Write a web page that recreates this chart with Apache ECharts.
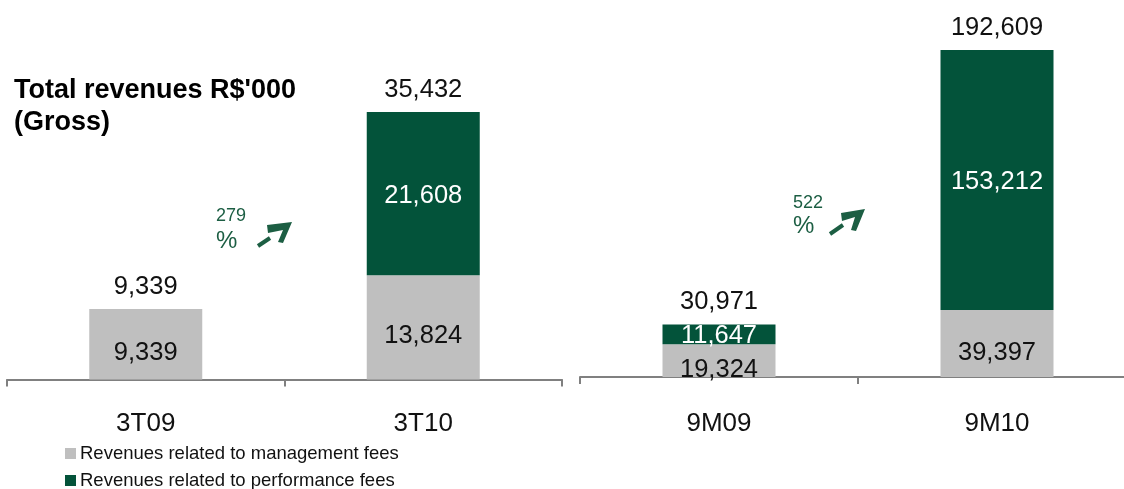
<!DOCTYPE html>
<html>
<head>
<meta charset="utf-8">
<script src="https://cdn.jsdelivr.net/npm/echarts@6/dist/echarts.min.js"></script>
<style>
  html, body { margin: 0; padding: 0; background: #fff; }
  #chart { width: 1124px; height: 489px; }
</style>
</head>
<body>
<div id="chart"></div>
<script>
// Quarter panel (3T) and nine-month panel (9M), R$'000
const quarterCategories = ['3T09', '3T10'];
const quarterManagement = [9339, 13824];
const quarterPerformance = [0, 21608];

const ytdCategories = ['9M09', '9M10'];
const ytdManagement = [19324, 39397];
const ytdPerformance = [11647, 153212];

const growthLabels = ['279', '522'];

const seriesNames = ['Revenues related to management fees', 'Revenues related to performance fees'];

const GRAY = '#bfbfbf';
const GREEN = '#03533a';
const NOTE_GREEN = '#1c5e43';
const AXIS_GRAY = '#808080';
const FONT = '"Liberation Sans", Arial, sans-serif';

const fmt = v => v.toLocaleString('en-US');

function panelSeries(axisIndex, mgmt, perf, stackId) {
  const totals = mgmt.map((v, i) => v + perf[i]);
  return [
    {
      name: seriesNames[0], type: 'bar', stack: stackId,
      xAxisIndex: axisIndex, yAxisIndex: axisIndex,
      barWidth: 113, data: mgmt,
      itemStyle: { color: GRAY },
      label: {
        show: true, position: 'inside', offset: [0, 9],
        color: '#111', fontSize: 25.5, fontFamily: FONT,
        formatter: p => fmt(p.value)
      }
    },
    {
      name: seriesNames[1], type: 'bar', stack: stackId,
      xAxisIndex: axisIndex, yAxisIndex: axisIndex,
      barWidth: 113, data: perf,
      itemStyle: { color: GREEN },
      label: {
        show: true, position: 'inside', offset: [0, 2],
        color: '#fff', fontSize: 25.5, fontFamily: FONT,
        formatter: p => (p.value ? fmt(p.value) : '')
      }
    },
    {
      // zero-height cap carrying the stacked total above each column
      name: 'total', type: 'bar', stack: stackId,
      xAxisIndex: axisIndex, yAxisIndex: axisIndex,
      barWidth: 113, data: totals.map(() => 0),
      itemStyle: { color: 'transparent' },
      label: {
        show: true, position: 'top', distance: 9,
        color: '#111', fontSize: 25.5, fontFamily: FONT,
        formatter: p => fmt(totals[p.dataIndex])
      },
      silent: true
    }
  ];
}

function categoryAxis(gridIndex, data, margin) {
  return {
    type: 'category', gridIndex, data,
    axisLine: { show: true, lineStyle: { color: AXIS_GRAY, width: 2 } },
    axisTick: { show: true, length: 7, interval: 0, lineStyle: { color: AXIS_GRAY, width: 2 } },
    axisLabel: { color: '#111', fontSize: 26, fontFamily: FONT, margin }
  };
}

function growthArrow(dash, head) {
  return [
    { type: 'line', shape: { x1: dash[0], y1: dash[1], x2: dash[2], y2: dash[3] },
      style: { stroke: NOTE_GREEN, lineWidth: 4 } },
    { type: 'polygon', shape: { points: head }, style: { fill: NOTE_GREEN } }
  ];
}

function legendRow(name, top) {
  return {
    data: [name], orient: 'vertical', left: 60, top,
    icon: 'rect', itemWidth: 11, itemHeight: 11,
    textStyle: { color: '#111', fontSize: 18.5, fontFamily: FONT, padding: [0, 0, 0, -1] },
    selectedMode: false
  };
}

const chart = echarts.init(document.getElementById('chart'));
chart.setOption({
  animation: false,
  backgroundColor: '#fff',
  textStyle: { fontFamily: FONT },
  grid: [
    { left: 7, top: 77.5, width: 555, height: 302, outerBoundsMode: 'none' },
    { left: 580, top: 37.5, width: 556, height: 339.5, outerBoundsMode: 'none' }
  ],
  xAxis: [categoryAxis(0, quarterCategories, 31), categoryAxis(1, ytdCategories, 34)],
  yAxis: [
    { type: 'value', gridIndex: 0, min: 0, max: 40000, show: false },
    { type: 'value', gridIndex: 1, min: 0, max: 200000, show: false }
  ],
  legend: [legendRow(seriesNames[0], 439), legendRow(seriesNames[1], 466)],
  series: [
    ...panelSeries(0, quarterManagement, quarterPerformance, 'q'),
    ...panelSeries(1, ytdManagement, ytdPerformance, 'y')
  ],
  graphic: [
    { type: 'text', left: 14, top: 75,
      style: { text: "Total revenues R$'000\n(Gross)", fill: '#000', font: 'bold 27px ' + FONT, lineHeight: 32 } },
    { type: 'text', left: 216, top: 207,
      style: { text: growthLabels[0], fill: NOTE_GREEN, font: '18px ' + FONT } },
    { type: 'text', left: 216, top: 229,
      style: { text: '%', fill: NOTE_GREEN, font: '24px ' + FONT } },
    ...growthArrow([258, 246, 270, 238],
      [[267, 225], [292, 222], [283, 243], [278, 242], [283, 230], [268, 233]]),
    { type: 'text', left: 793, top: 194,
      style: { text: growthLabels[1], fill: NOTE_GREEN, font: '18px ' + FONT } },
    { type: 'text', left: 793, top: 214,
      style: { text: '%', fill: NOTE_GREEN, font: '24px ' + FONT } },
    ...growthArrow([830, 234, 843, 225],
      [[841, 213], [865, 209], [856, 231], [851, 230], [855, 217], [842, 221]])
  ]
});
</script>
</body>
</html>
